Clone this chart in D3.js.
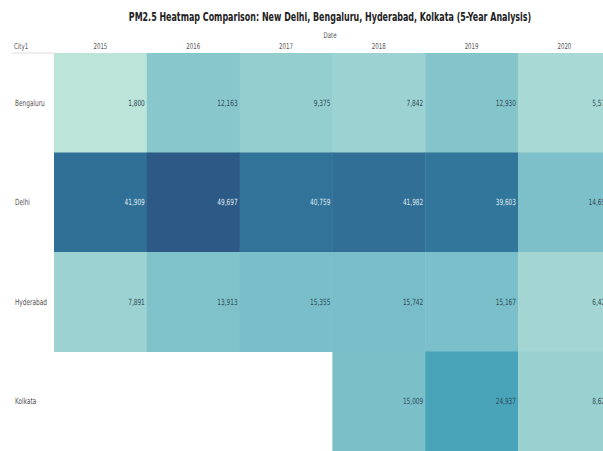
<!DOCTYPE html>
<html>
<head>
<meta charset="utf-8">
<script src="https://cdn.jsdelivr.net/npm/d3@7"></script>
<style>
  body { margin: 0; background: #fff; }
  text { font-family: "Liberation Sans Narrow", "DejaVu Sans Condensed", "Roboto", sans-serif; }
</style>
</head>
<body>
<div class="heat"></div>
<script>
// chart data
const years = ["2015", "2016", "2017", "2018", "2019", "2020"]
const cities = ["Bengaluru", "Delhi", "Hyderabad", "Kolkata"]
const bengaluru = [1800, 12163, 9375, 7842, 12930, 5574]
const delhi = [41909, 49697, 40759, 41982, 39603, 14658]
const hyderabad = [7891, 13913, 15355, 15742, 15167, 6425]
const kolkata = [null, null, null, 15009, 24937, 8621]
const seriesByCity = {Bengaluru: bengaluru, Delhi: delhi, Hyderabad: hyderabad, Kolkata: kolkata}

// tableau blue-teal palette
const palette = ["#bce4d8", "#aedcd5", "#a1d5d2", "#95cecf", "#89c8cc", "#7ec1ca", "#72bac6", "#66b2c2",
  "#59acbe", "#4ba5ba", "#419eb6", "#3b96b2", "#358ead", "#3586a7", "#347ea1", "#32779b",
  "#316f96", "#2f6790", "#2d608a", "#2c5985"]

const width = 603, height = 451
const gridLeft = 54, gridTop = 53, colW = 92.8, rowH = 99.5
const squeeze = 0.76   // the original uses a narrow font

const svg = d3.select(".heat")
  .append("svg")
  .attr("width", width)
  .attr("height", height)

const cells = []
cities.forEach(c => {
  seriesByCity[c].forEach((v, i) => {
    if (v != null) cells.push({city: c, year: years[i], value: v})
  })
})

const x = d3.scaleBand()
  .domain(years)
  .range([gridLeft, gridLeft + colW * years.length])
const y = d3.scaleBand()
  .domain(cities)
  .range([gridTop, gridTop + rowH * cities.length])

const [vmin, vmax] = d3.extent(cells, d => d.value)
const color = d3.scaleLinear()
  .domain(palette.map((p, i) => vmin + i * (vmax - vmin) / (palette.length - 1)))
  .range(palette)

const at = (px, py) => `translate(${px},${py}) scale(${squeeze},1)`

// title, squeezed to the width it has in the original
const title = svg.append("text")
  .attr("text-anchor", "middle")
  .attr("font-size", "12px")
  .attr("font-weight", "bold")
  .attr("fill", "#222")
  .text("PM2.5 Heatmap Comparison: New Delhi, Bengaluru, Hyderabad, Kolkata (5-Year Analysis)")
const tw = title.node().getComputedTextLength()
title.attr("transform", `translate(330,21) scale(${Math.min(1, 403 / tw)},1)`)

svg.append("text")
  .attr("transform", at(330, 38))
  .attr("text-anchor", "middle")
  .attr("font-size", "8px")
  .attr("fill", "#555")
  .text("Date")

svg.append("text")
  .attr("transform", at(14, 49))
  .attr("font-size", "8px")
  .attr("fill", "#555")
  .text("City1")

svg.append("line")
  .attr("x1", 12).attr("x2", gridLeft)
  .attr("y1", gridTop).attr("y2", gridTop)
  .attr("stroke", "#ddd")

// column headers
svg.append("g")
  .selectAll("text")
  .data(years)
  .join("text")
  .attr("transform", d => at(x(d) + x.bandwidth() / 2, 49))
  .attr("text-anchor", "middle")
  .attr("font-size", "8px")
  .attr("fill", "#555")
  .text(d => d)

// row headers
svg.append("g")
  .selectAll("text")
  .data(cities)
  .join("text")
  .attr("transform", d => at(15, y(d) + y.bandwidth() / 2))
  .attr("dy", "0.35em")
  .attr("font-size", "8.5px")
  .attr("fill", "#555")
  .text(d => d)

// cells
svg.append("g")
  .selectAll("rect")
  .data(cells)
  .join("rect")
  .attr("x", d => x(d.year))
  .attr("y", d => y(d.city))
  .attr("width", x.bandwidth() + 0.5)
  .attr("height", y.bandwidth() + 0.5)
  .attr("fill", d => color(d.value))

// value labels
svg.append("g")
  .selectAll("text")
  .data(cells)
  .join("text")
  .attr("transform", d => at(x(d.year) + x.bandwidth() - 2, y(d.city) + y.bandwidth() / 2))
  .attr("dy", "0.35em")
  .attr("text-anchor", "end")
  .attr("font-size", "8.5px")
  .attr("fill", d => d.value > 30000 ? "#dfe8ef" : "#2f4d5c")
  .text(d => d3.format(",")(d.value))
</script>
</body>
</html>
